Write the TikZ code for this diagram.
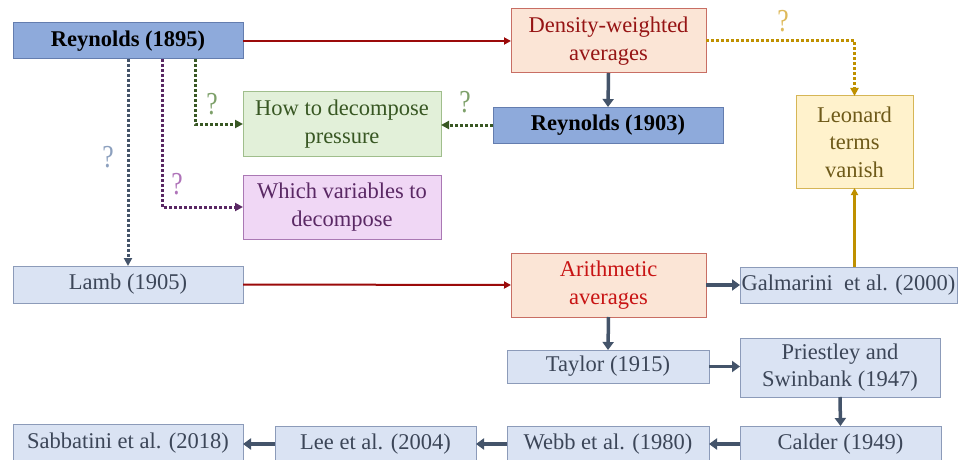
\documentclass[tikz,border=0pt]{standalone}
\usepackage{fontspec}
\setmainfont{LiberationSerif}[Extension=.ttf, UprightFont=*-Regular, BoldFont=*-Bold, ItalicFont=*-Italic, BoldItalicFont=*-BoldItalic]
\usetikzlibrary{arrows.meta}
\definecolor{darkred}{RGB}{155,10,10}
\definecolor{slate}{RGB}{68,84,106}
\definecolor{rblue}{RGB}{142,170,219}
\definecolor{rblueb}{RGB}{100,125,175}
\definecolor{lblue}{RGB}{218,227,243}
\definecolor{lblueb}{RGB}{140,155,185}
\definecolor{ltext}{RGB}{60,70,88}
\definecolor{salm}{RGB}{251,229,214}
\definecolor{salmb}{RGB}{200,110,100}
\definecolor{dredtext}{RGB}{150,20,20}
\definecolor{redtext}{RGB}{200,20,20}
\definecolor{lgreen}{RGB}{226,240,217}
\definecolor{lgreenb}{RGB}{160,190,140}
\definecolor{dgreen}{RGB}{56,87,35}
\definecolor{qgreen}{RGB}{125,160,105}
\definecolor{lpurp}{RGB}{240,215,245}
\definecolor{lpurpb}{RGB}{170,120,180}
\definecolor{dpurp}{RGB}{90,40,100}
\definecolor{qpurp}{RGB}{175,115,185}
\definecolor{lyel}{RGB}{255,242,204}
\definecolor{lyelb}{RGB}{214,182,86}
\definecolor{olive}{RGB}{110,90,25}
\definecolor{gold}{RGB}{191,144,0}
\definecolor{qgold}{RGB}{222,185,90}
\definecolor{qblue}{RGB}{140,160,190}
\tikzset{
  box/.style={draw, line width=1pt, inner sep=0pt, outer sep=0pt, align=center,
    font=\fontsize{22.5}{27.5}\selectfont},
  rbox/.style={box, fill=rblue, draw=rblueb, font=\fontsize{22.5}{27.5}\selectfont\bfseries, text=black},
  lbox/.style={box, fill=lblue, draw=lblueb, text=ltext},
  sbox/.style={box, fill=salm, draw=salmb},
  gbox/.style={box, fill=lgreen, draw=lgreenb, text=dgreen},
  pbox/.style={box, fill=lpurp, draw=lpurpb, text=dpurp},
  ybox/.style={box, fill=lyel, draw=lyelb, text=olive},
  redarr/.style={draw=darkred, line width=2pt, -{Triangle[length=7pt,width=7pt]}},
  slarr/.style={draw=slate, line width=3.5pt, -{Triangle[length=8pt,width=11pt]}},
  dotarr/.style={line width=3pt, dash pattern=on 3pt off 2pt, -{Triangle[length=8pt,width=8pt]}},
  qm/.style={font=\fontsize{32}{32}\selectfont, inner sep=0pt, xscale=0.8},
}
\begin{document}
\begin{tikzpicture}[x=1pt,y=-1pt]
\useasboundingbox (0,0) rectangle (959,460);
\clip (0,0) rectangle (959,460);
\fill[white] (0,0) rectangle (959,460);

\node[rbox, minimum width=230pt, minimum height=36pt] (r1895) at (128,41) {Reynolds (1895)};
\node[sbox, text=dredtext, minimum width=195pt, minimum height=64pt] (dens) at (608.5,41) {Density-weighted\\averages};
\node[rbox, minimum width=230pt, minimum height=36pt] (r1903) at (608,125) {Reynolds (1903)};
\node[ybox, minimum width=117pt, minimum height=92pt] (leon) at (854.5,142) {Leonard\\terms\\vanish};
\node[gbox, minimum width=198pt, minimum height=64pt] (howp) at (342,124) {How to decompose\\pressure};
\node[pbox, minimum width=198pt, minimum height=64pt] (whichv) at (342,207) {Which variables to\\decompose};
\node[lbox, minimum width=230pt, minimum height=37pt] (lamb) at (128,284.5) {Lamb (1905)};
\node[sbox, text=redtext, minimum width=195pt, minimum height=64pt] (arith) at (608.5,285) {Arithmetic\\averages};
\node[lbox, minimum width=217pt, minimum height=36pt] (galm) at (848.5,285) {Galmarini\ \ et al. (2000)};
\node[lbox, minimum width=202pt, minimum height=33pt] (taylor) at (608,366.5) {Taylor (1915)};
\node[lbox, minimum width=200pt, minimum height=59pt] (priest) at (840,367.5) {Priestley and\\Swinbank (1947)};
\node[lbox, minimum width=201pt, minimum height=36pt] (calder) at (840.5,444) {Calder (1949)};
\node[lbox, minimum width=202pt, minimum height=36pt] (webb) at (608,444) {Webb et al. (1980)};
\node[lbox, minimum width=201pt, minimum height=36pt] (lee) at (375.5,444) {Lee et al. (2004)};
\node[lbox, minimum width=230pt, minimum height=38pt] (sabb) at (128,443) {Sabbatini et al. (2018)};

% red arrows
\draw[redarr] (r1895.east) -- (dens.west);
\draw[redarr] (lamb.east) -- (arith.west);
% slate arrows
\draw[slarr] (dens.south) -- (r1903.north);
\draw[slarr] (arith.east) -- (galm.west);
\draw[slarr] (arith.south) -- (taylor.north);
\draw[slarr] (taylor.east) -- (taylor.east -| priest.west);
\draw[slarr] (priest.south) -- (calder.north);
\draw[slarr] (calder.west) -- (webb.east);
\draw[slarr] (webb.west) -- (lee.east);
\draw[slarr] (lee.west) -- (lee.west -| sabb.east);
% gold
\draw[dotarr, draw=gold] (dens.east) -| (leon.north);
\draw[line width=2.5pt, draw=gold, -{Triangle[length=7pt,width=7pt]}] (leon.south |- galm.north) -- (leon.south);
% dotted from Reynolds 1895
\draw[dotarr, draw=slate] (r1895.south) -- (lamb.north);
\draw[dotarr, draw=dpurp] ([xshift=34pt]r1895.south) |- (whichv.west);
\draw[dotarr, draw=dgreen] ([xshift=67pt]r1895.south) |- (howp.west);
\draw[dotarr, draw=dgreen] (r1903.west) -- (r1903.west -| howp.east);

% question marks
\node[qm, text=qblue] (q1) at (108,157) {?};
\node[qm, text=qpurp] (q2) at (177,184) {?};
\node[qm, text=qgreen] (q3) at (212,104) {?};
\node[qm, text=qgreen] (q4) at (465,102) {?};
\node[qm, text=qgold] (q5) at (783,21) {?};
\end{tikzpicture}
\end{document}
